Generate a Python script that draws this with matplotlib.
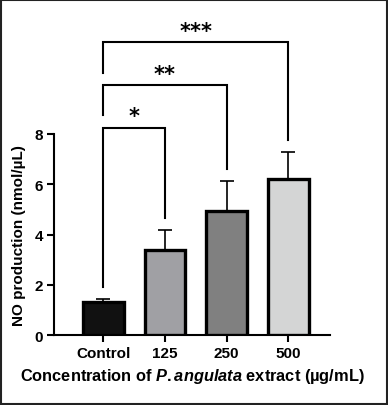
import matplotlib
matplotlib.use('Agg')
import matplotlib.pyplot as plt
from matplotlib.patches import Rectangle

plt.rcParams['font.family'] = ['Liberation Sans', 'DejaVu Sans']
plt.rcParams['font.weight'] = 'bold'
plt.rcParams['mathtext.fontset'] = 'custom'
plt.rcParams['mathtext.it'] = 'Liberation Sans:italic:bold'
plt.rcParams['mathtext.rm'] = 'Liberation Sans:bold'

groups = ['Control', '125', '250', '500']
means = [1.30, 3.37, 4.95, 6.20]
errs = [0.13, 0.82, 1.16, 1.09]
colors = ['#111111', '#a0a0a4', '#808080', '#d4d5d5']

# significance brackets: (i, j, top, left leg bottom, right leg bottom, label, label y)
sig = [
    (0, 1, 8.23, 1.92, 4.66, '*', 8.80),
    (0, 2, 9.96, 8.74, 6.61, '**', 10.47),
    (0, 3, 11.66, 10.44, 7.78, '***', 12.17),
]

fig = plt.figure(figsize=(3.88, 4.06), dpi=100)
ax = fig.add_axes([0.139, 0.1724, 0.712, 0.4951])

x = list(range(len(groups)))
ax.bar(x, means, width=0.66, color=colors, edgecolor='black', linewidth=2.4, zorder=3)
ax.errorbar(x, means, yerr=[[0] * len(errs), errs], fmt='none', ecolor='black',
            elinewidth=1.2, capsize=5, capthick=1.2, zorder=2)

for i, j, top, lb, rb, lab, ly in sig:
    ax.plot([x[i], x[i], x[j], x[j]], [lb, top, top, rb], color='black',
            lw=1.5, clip_on=False, solid_joinstyle='miter')
    ax.text((x[i] + x[j]) / 2, ly, lab, ha='center', va='center_baseline',
            fontsize=15, fontweight='bold', family='DejaVu Sans', clip_on=False)

ax.set_xlim(-0.80, 3.68)
ax.set_ylim(0, 8)
ax.set_yticks([0, 2, 4, 6, 8])
ax.set_xticks(x)
ax.set_xticklabels(groups)
for s in ['top', 'right']:
    ax.spines[s].set_visible(False)
for s in ['left', 'bottom']:
    ax.spines[s].set_linewidth(1.5)
ax.tick_params(width=1.5, length=5, labelsize=11, pad=3)

ax.set_ylabel('NO production (nmol/µL)', fontsize=11, fontweight='bold', labelpad=6)
ax.set_xlabel('Concentration of $\\mathit{P{.}angulata}$ extract (µg/mL)',
              fontsize=11.8, fontweight='bold', labelpad=4)

fig.patches.append(Rectangle((0.002, 0.002), 0.996, 0.996, transform=fig.transFigure,
                             fill=False, edgecolor='#222222', linewidth=1.5))

fig.savefig('out.png', dpi=100)
